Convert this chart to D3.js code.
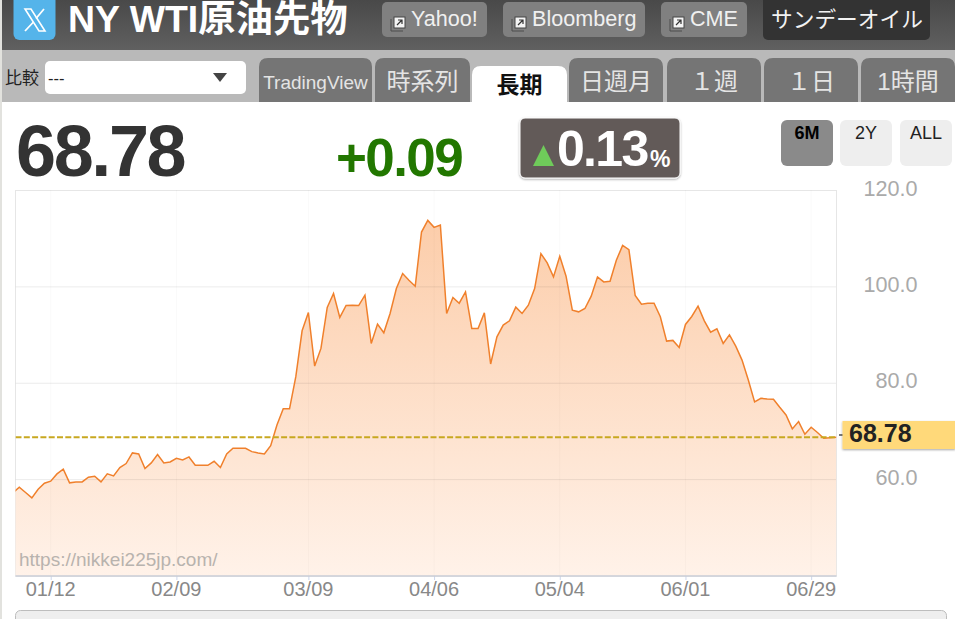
<!DOCTYPE html>
<html><head><meta charset="utf-8">
<script src="https://cdnjs.cloudflare.com/ajax/libs/d3/7.8.5/d3.min.js"></script>
<style>
html,body{margin:0;padding:0;background:#fff;overflow:hidden}
svg{display:block}
text{font-family:"Liberation Sans","Noto Sans CJK JP",sans-serif}
</style></head><body>
<div id="chart"></div>
<script>
const prices=[57.25,58.43,57.32,56.22,58.01,59.26,59.67,61.19,62.15,59.33,59.53,59.53,60.5,60.71,59.53,61.19,60.77,62.5,63.33,65.54,65.33,62.29,63.47,65.19,63.47,63.67,64.43,64.09,64.71,62.98,62.98,62.98,63.81,62.5,65.33,66.5,66.5,66.5,65.81,65.54,65.33,67.05,71.33,74.7,74.7,81.36,90.89,94.68,83.57,87.23,95.72,98.62,93.65,96.13,96.2,96.13,98.27,88.26,92.27,90.47,94.48,99.65,102.76,101.38,100.13,111.38,113.8,112.35,112.83,94.48,97.79,96.61,98.96,91.37,91.37,94.61,83.99,89.64,92.06,92.96,95.79,94.48,96.2,99.65,106.9,104.97,102.07,106.35,102.21,95.17,94.82,95.51,98.07,102.07,101.03,101.17,105.52,108.62,107.73,98.2,96.41,96.62,96.62,93.79,88.75,88.89,87.44,92.2,93.86,95.99,92.96,90.61,91.3,88.27,90.06,87.71,84.81,80.67,76.12,76.88,76.74,76.67,75.01,73.43,70.53,72.05,69.42,70.87,69.77,68.6,68.69,68.78];
const xTickIndex=[6,26,47,67,87,107,127];
const xTickLabels=["01/12","02/09","03/09","04/06","05/04","06/01","06/29"];
const yTicks=[60,80,100,120];
const lastPrice=68.78;
const navLinks=["Yahoo!","Bloomberg","CME"];
const tabs=["TradingView","時系列","長期","日週月","１週","１日","1時間"];
const ranges=["6M","2Y","ALL"];

const W=955,H=619;
const svg=d3.select("#chart").append("svg").attr("width",W).attr("height",H);
const defs=svg.append("defs");
const hg=defs.append("linearGradient").attr("id","hdr").attr("x1",0).attr("y1",0).attr("x2",0).attr("y2",1);
hg.append("stop").attr("offset","0").attr("stop-color","#494949");
hg.append("stop").attr("offset","1").attr("stop-color","#606060");
const ag=defs.append("linearGradient").attr("id","area").attr("x1",0).attr("y1",0).attr("x2",0).attr("y2",1);
ag.append("stop").attr("offset","0").attr("stop-color","#fccdaa");
ag.append("stop").attr("offset","1").attr("stop-color","#fff2e9");
const sh=defs.append("filter").attr("id","sh").attr("x","-10%").attr("y","-10%").attr("width","120%").attr("height","130%");
sh.append("feDropShadow").attr("dx",0).attr("dy",1).attr("stdDeviation",1.2).attr("flood-color","#000").attr("flood-opacity",.35);
defs.append("clipPath").attr("id","plot").append("rect").attr("x",15.5).attr("y",190).attr("width",821).attr("height",386);

function label(x,y,s,size,fill,opts={}){
  return svg.append("text").attr("x",x).attr("y",y).text(s).attr("font-size",size).attr("fill",fill)
    .attr("text-anchor",opts.anchor||"start").attr("font-weight",opts.weight||"normal")
    .style("letter-spacing",opts.ls||null);
}
function box(x,y,w,h,r,fill){return svg.append("rect").attr("x",x).attr("y",y).attr("width",w).attr("height",h).attr("rx",r).attr("fill",fill);}

// page frame
svg.append("rect").attr("width",W).attr("height",H).attr("fill","#fff");
box(0,0,2,H,0,"#e2e2de");
box(2,0,W-2,50,0,"url(#hdr)");
box(2,50,W-2,52,0,"#b9b9b9");

// header
box(13.5,-8,42,48,6,"#55b4ea");
svg.append("path").attr("d","M25 9 L31 9 L45 31 L39 31 Z").attr("fill","none").attr("stroke","#fff").attr("stroke-width",1.6);
svg.append("path").attr("d","M44 9 L36 18.5 M33.5 22 L25 31").attr("stroke","#fff").attr("stroke-width",1.8);
label(68,32,"NY WTI原油先物",37.4,"#fff",{weight:"bold"});

const navX=[382,503,661],navW=[105,142,86];
navLinks.forEach((s,i)=>{
  box(navX[i],2,navW[i],35,5,"#808080");
  const ix=navX[i]+10;
  svg.append("path").attr("d",`M${ix-1} 19 V31 H${ix+11}`).attr("fill","none").attr("stroke","#4c4c4c").attr("stroke-width",1);
  box(ix+2,17,11,11,0,"#f4f4f4").attr("stroke","#444").attr("stroke-width",1);
  svg.append("path").attr("d",`M${ix+5} 25 L${ix+10} 20 M${ix+6} 20 H${ix+10} V24`).attr("fill","none").attr("stroke","#333").attr("stroke-width",1.2);
  label(navX[i]+29,26,s,21.6,"#f0f0f0");
});
box(763,-6,167,46,5,"#333");
label(771,26.5,"サンデーオイル",21.7,"#f2f2f2");

// compare selector
label(5,84,"比較",17,"#222");
box(45,61,201,33,5,"#fff");
label(48,84,"---",16.5,"#222");
svg.append("path").attr("d","M213 73 H227 L220 82 Z").attr("fill","#444");

// tabs
const tabX=[259,375,472,569,667,764,861],tabR=[372,470,567,663,761,858,955];
const tabSize=[19,24,23,24,24,24,24];
tabs.forEach((s,i)=>{
  const on=i===2, top=on?66:58, x=tabX[i], w=tabR[i]-x;
  svg.append("path").attr("d",`M${x} 102 V${top+9} Q${x} ${top} ${x+9} ${top} H${x+w-9} Q${x+w} ${top} ${x+w} ${top+9} V102 Z`).attr("fill",on?"#fff":"#757575");
  label(x+w/2,on?93:(i===0?89:90),s,tabSize[i],on?"#111":"#e4e4e4",{anchor:"middle",weight:on?"bold":"normal"});
});

// quote
label(16,176,"68.78",72,"#333",{weight:"bold",ls:"-2.4px"});
label(336,176,"+0.09",53,"#227700",{weight:"bold",ls:"-1.6px"});
box(520,118,160,60,5,"#625a58").attr("stroke","#fff").attr("stroke-width",1).attr("filter","url(#sh)");
svg.append("path").attr("d","M533 166 L543.5 145 L554 166 Z").attr("fill","#6fcb5a");
label(557,166,"0.13",50,"#fff",{weight:"bold",ls:"-1.7px"});
label(650,167,"%",23,"#fff",{weight:"bold"});

// range buttons
const rangeX=[781,840,900];
ranges.forEach((s,i)=>{
  box(rangeX[i],120,52,46,6,i===0?"#8a8a8a":"#eeeeee");
  label(rangeX[i]+26,139,s,18,i===0?"#000":"#222",{anchor:"middle",weight:i===0?"bold":"normal"});
});

// chart
const x=d3.scaleLinear().domain([0,prices.length-1]).range([13,836.3]);
const y=d3.scaleLinear().domain([40,120]).range([576,190.5]);

svg.append("rect").attr("x",15.5).attr("y",190.5).attr("width",821).attr("height",385.5).attr("fill","#fff").attr("stroke","#e6e6e6");

const plot=svg.append("g").attr("clip-path","url(#plot)");
plot.append("path").datum(prices).attr("fill","url(#area)")
  .attr("d",d3.area().x((d,i)=>x(i)).y0(y(40)).y1(d=>y(d)));
plot.selectAll("line.v").data(xTickIndex).join("line").attr("class","v")
  .attr("x1",d=>x(d)).attr("x2",d=>x(d)).attr("y1",190).attr("y2",576).attr("stroke","#000").attr("stroke-opacity",.025);
plot.selectAll("line.h").data(yTicks.slice(0,3)).join("line").attr("class","h")
  .attr("x1",15.5).attr("x2",836).attr("y1",d=>y(d)).attr("y2",d=>y(d)).attr("stroke","#000").attr("stroke-opacity",.08);
plot.append("path").datum(prices).attr("fill","none").attr("stroke","#f0802c").attr("stroke-width",1.5)
  .attr("d",d3.line().x((d,i)=>x(i)).y(d=>y(d)));
plot.append("line").attr("x1",15.5).attr("x2",836).attr("y1",y(lastPrice)).attr("y2",y(lastPrice))
  .attr("stroke","#c8a820").attr("stroke-width",2).attr("stroke-dasharray","6,2.3");

label(19,566,"https://nikkei225jp.com/",19,"#b8b3ae");

// axes
const xAxis=svg.append("g").attr("transform","translate(0,576)")
  .call(d3.axisBottom(x).tickValues(xTickIndex).tickFormat((d,i)=>xTickLabels[i]).tickSize(4).tickPadding(2));
xAxis.select(".domain").remove();
xAxis.append("line").attr("x1",15.5).attr("x2",836.5).attr("stroke","#c8ccd6").attr("stroke-width",1.5);
xAxis.selectAll(".tick line").attr("stroke","#ccd6eb");
xAxis.selectAll(".tick text").attr("font-size",20).attr("fill","#888").style("font-family",'"Liberation Sans"').attr("dx",-0.5);

const yAxis=svg.append("g").attr("transform","translate(917.5,0)")
  .call(d3.axisRight(y).tickValues(yTicks).tickFormat(d3.format(".1f")).tickSize(0).tickPadding(0));
yAxis.select(".domain").remove();
yAxis.selectAll(".tick text").attr("font-size",21.6).attr("fill","#aaa").attr("text-anchor","end").style("font-family",'"Liberation Sans"').attr("dy",4.6).attr("x",0);

// current price tag
svg.append("line").attr("x1",839).attr("x2",846).attr("y1",435).attr("y2",435).attr("stroke","#222").attr("stroke-width",1.2);
box(842.5,421,113,28,0,"#ffd97a").attr("filter","url(#sh)");
label(849,442,"68.78",25,"#222",{weight:"bold"});

// panel below the chart
box(15.5,610.5,931,20,5,"#eeeeee").attr("stroke","#bdbdbd");
</script></body></html>
